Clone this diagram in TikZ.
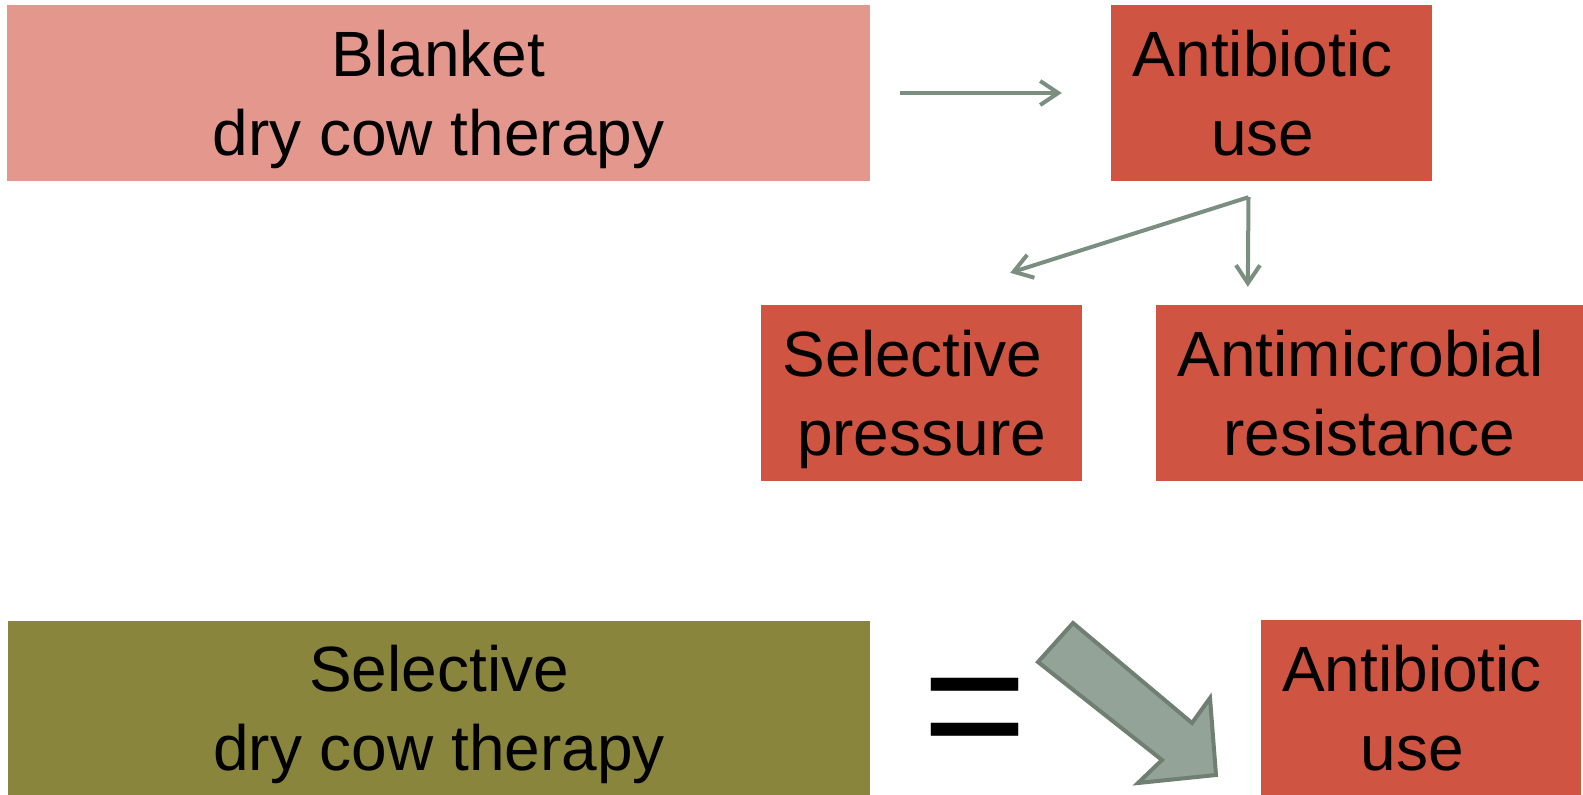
\documentclass[tikz,border=0pt]{standalone}
\usepackage{fontspec}
\setmainfont{Liberation Sans}
\usetikzlibrary{arrows.meta,positioning,calc}
\definecolor{BlanketPink}{HTML}{E3978D}
\definecolor{UseRed}{HTML}{CF5441}
\definecolor{SelOlive}{HTML}{8A853C}
\definecolor{LinkGreen}{HTML}{7B8F80}
\definecolor{BigFill}{HTML}{93A397}
\definecolor{BigEdge}{HTML}{6F7F72}
\newcommand{\trail}{\kern.278em}

\begin{document}
\begin{tikzpicture}[x=1pt,y=1pt,
  box/.style={minimum height=176pt, align=center, inner sep=0pt, text depth=0pt,
    font=\fontsize{64}{79}\selectfont},
  arr/.style={-{Straight Barb[length=18pt,width=24pt,line width=4pt]}, line width=4pt, LinkGreen}
]
\useasboundingbox (0,0) rectangle (1583,-795);
\node[box, fill=BlanketPink, minimum width=863pt] (blanket) at (438.5,-93) {Blanket\\dry cow therapy};
\node[box, fill=UseRed, minimum width=321pt] (abuse) at (1271.5,-93) {Antibiotic\trail\\use\trail};
\node[box, fill=UseRed, minimum width=321pt] (selpress) at (921.5,-393) {Selective\trail\\pressure};
\node[box, fill=UseRed, minimum width=427pt] (amr) at (1369.5,-393) {Antimicrobial\trail\\resistance};
\node[box, fill=SelOlive, minimum width=862pt, minimum height=174pt] (selective) at (439,-708) {Selective\\dry cow therapy};
\node[box, fill=UseRed, minimum width=320pt, minimum height=175pt] (abuse2) at (1421,-707.5) {Antibiotic\trail\\use\trail};
\node[anchor=base, inner sep=0pt, font=\fontsize{180}{180}\selectfont] (equals) at (975,-766) {=};
\coordinate (split) at ($(abuse.south)+(-23,-16)$);
\draw[arr, shorten <=30pt, shorten >=49pt] (blanket.east) -- (abuse.west);
\draw[arr] (split) -- ($(selpress.north east)+(-72,32)$);
\draw[arr] (split) -- ($(amr.north west)+(92,18)$);
\draw[fill=BigFill, draw=BigEdge, line width=4pt, line join=miter]
  (1038,-662) -- (1073,-623) -- (1192,-723) -- (1210,-698) -- (1216,-775) -- (1138,-783) -- (1162,-760) -- cycle;
\end{tikzpicture}
\end{document}
